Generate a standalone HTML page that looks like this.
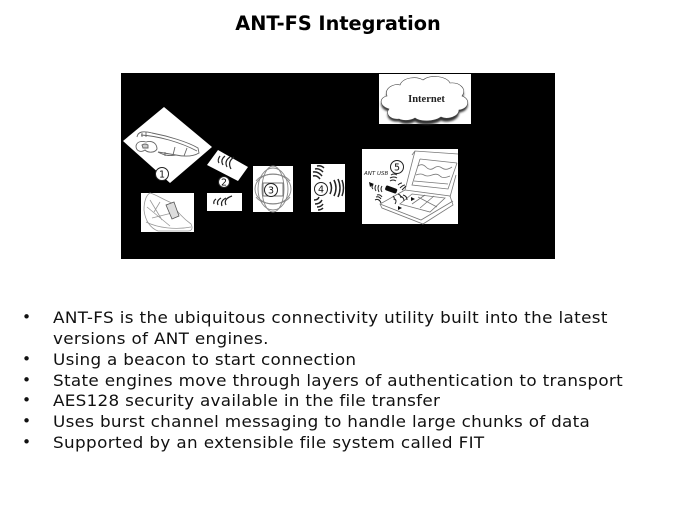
<!DOCTYPE html>
<html><head><meta charset="utf-8"><style>
html,body{margin:0;padding:0;background:#fff}
body{width:675px;height:506px;position:relative;overflow:hidden;font-family:"DejaVu Sans",sans-serif;color:#111}
h1{position:absolute;left:0;top:12px;width:676px;margin:0;text-align:center;font-size:19.3px;line-height:23px;font-weight:bold;color:#000}
svg{position:absolute;left:0;top:0}
.l{position:absolute;left:53px;font-size:16px;line-height:21px;white-space:nowrap;letter-spacing:.34px;transform:scaleX(1.05);transform-origin:0 0}
.b{position:absolute;left:22px;font-size:15.4px;line-height:21px}
</style></head><body>
<h1>ANT-FS Integration</h1>
<svg width="675" height="506" viewBox="0 0 675 506">
<defs><filter id="s" x="-5%" y="-5%" width="110%" height="110%"><feGaussianBlur stdDeviation="0.35"/></filter>
<filter id="c" x="-10%" y="-10%" width="120%" height="120%"><feGaussianBlur stdDeviation="1"/></filter></defs>
<rect x="121" y="73" width="434" height="186" fill="#000"/>
<g fill="#fff">
<polygon points="164,107 212,147 170,183 123,141"/>
<polygon points="218,150 248,167 238,181 207,165"/>
<rect x="207" y="193" width="35" height="18"/>
<rect x="141" y="193" width="53" height="39"/>
<rect x="253" y="166" width="40" height="46"/>
<rect x="311" y="164" width="34" height="48"/>
<rect x="362" y="149" width="96" height="75"/>
<rect x="379" y="74" width="92" height="50"/>
</g>
<g filter="url(#s)">
<!-- headband -->
<g fill="none" stroke="#666" stroke-width="0.9">
<path d="M137,137 C138,131 144,131 152,133 C168,136 188,142 198,148 L199,153 C194,156 186,157 176,155 L158,152"/>
<path d="M141,135 C158,136 180,142 197,151"/>
<path d="M142,133 V137 M146,132 V137 M175,147 L173,155 M187,148 L184,156"/>
<path d="M136,146 C137,141 142,141 146,142 C153,140 157,144 157,149 C155,153 148,153 145,150 C141,153 136,151 136,146 Z"/>
<path d="M142,145 q3,-2 6,0 v3 h-5 Z" fill="#ccc"/>
<path d="M158,152 C165,156 170,156 176,155 M165,152 V156"/>
</g>
<!-- shoe -->
<g fill="none" stroke="#999" stroke-width="0.8">
<path d="M144,210 C144,202 146,195 150,193 C155,194 164,200 172,203 C176,211 184,219 191,224 C193,228 192,231 188,231 H158 C150,228 145,220 144,210 Z"/>
<path d="M147,207 L170,226 M150,200 L162,220 M152,218 L176,212 M160,202 L154,212 M146,222 C158,228 176,230 191,227"/>
<path d="M166,205 L174,202 L179,216 L172,219 Z" stroke="#555" fill="#ddd"/>
</g>
<!-- device 3 -->
<g fill="none" stroke="#888" stroke-width="0.9">
<ellipse cx="273" cy="189" rx="18" ry="15"/><ellipse cx="273" cy="189" rx="15" ry="21"/><ellipse cx="273" cy="189" rx="11" ry="23"/>
<path d="M256,181 C262,172 284,172 290,181 M256,197 C262,206 284,206 290,197"/>
<rect x="263" y="183" width="20" height="13" stroke="#666"/>
</g>
<!-- waves -->
<g fill="none" stroke="#222" stroke-width="1.2">
<path d="M219,163 q-2,-3 1,-7 M223,165 q-3,-5 2,-9 M227,167 q-3,-6 3,-10 M231,169 q-4,-7 3,-12"/>
<path d="M214,204 q-1,-3 2,-5 M218,205 q-2,-4 3,-7 M222,206 q-2,-5 4,-8 M226,205 q-3,-6 6,-9"/>
</g>
<g fill="none" stroke="#222" stroke-width="1.5">
<path d="M330,182 q3,6 0,12 M334,180 q4,8 0,16 M338,179 q4,9 0,18 M342,180 q3,8 0,16"/>
<path d="M320,179 q-3,-4 -7,-3 M322,176 q-4,-5 -9,-4 M323,172 q-4,-4 -8,-3 M324,168 q-3,-3 -7,-2"/>
<path d="M319,197 q-1,3 -5,3 M322,200 q-2,4 -7,4 M323,204 q-2,3 -6,3 M323,208 q-2,2 -5,2"/>
</g>
<!-- laptop -->
<g fill="none" stroke="#777" stroke-width="0.8">
<path d="M405,190 L415,151 L458,154 M415,151 L412,155"/>
<path d="M420,159 L457,163 M420,159 L412,185 L448,189 L457,163"/>
<path d="M418,166 q4,-3 8,1 t8,1 t8,0 t10,-1 M416,175 q5,-2 8,0 t8,0 t8,1 t10,0 M414,181 L448,184"/>
<path d="M405,190 L450,196 L453,205 L423,224 L382,208 L380,204 L405,190"/>
<path d="M380,204 L421,220 L453,201"/>
<path d="M412,194 L445,198 L430,212 L400,204 Z M418,197 L437,207 M425,195 L412,204 M434,196 L420,208"/>
<path d="M450,197 L456,175"/>
</g>
<rect x="385" y="187" width="12" height="5" rx="1.5" transform="rotate(20 391 190)" fill="#111"/>
<g fill="none" stroke="#222" stroke-width="1">
<path d="M373,185 q-2,2 0,4 M376,185 q-2,3 0,6 M379,185 q-2,3 0,7 M382,186 q-2,3 0,6"/>
<path d="M390,181 q3,-2 6,0 M390,178 q4,-2 7,0 M391,175 q3,-2 6,0"/>
<path d="M398,185 q2,-2 4,-2 M400,188 q3,-3 5,-3 M402,190 q3,-3 4,-4"/>
<path d="M376,197 q3,-1 5,2 M375,200 q4,-2 6,3 M377,195 q3,-1 5,2"/>
<path d="M398,194 q3,1 3,4 M400,196 q4,1 4,5 M403,195 q4,1 4,5"/>
<path d="M393,196 q2,2 1,4 M395,199 q2,2 0,5"/>
</g>
<path d="M369,182 l5,2 -4,3Z M411,197 l4,2 -4,2Z M398,206 l4,2 -4,2Z" fill="#111"/>
<!-- cloud shadow + cloud -->
<path d="M399,120 C390,121 385,115 389,110 C380,108 378,99 387,97 C384,89 394,84 400,86 C403,78 417,77 423,81 C430,75 447,77 450,84 C460,83 467,90 462,97 C471,100 469,110 459,111 C459,119 447,122 441,119 C434,124 420,124 415,120 C410,123 403,123 399,120 Z" fill="#333" filter="url(#c)" transform="translate(0,1.5)"/>
<path d="M399,119 C390,120 385,114 389,109 C380,107 378,98 387,96 C384,88 394,83 400,85 C403,77 417,76 423,80 C430,74 447,76 450,83 C460,82 467,89 462,96 C471,99 469,109 459,110 C459,117 447,120 441,117 C434,122 420,122 415,118 C410,121 403,121 399,119 Z" fill="#fff" stroke="#444" stroke-width="0.6"/>
<text x="426.5" y="102" font-family="'Liberation Serif',serif" font-size="10.5" font-weight="bold" text-anchor="middle" fill="#222">Internet</text>
<text x="364" y="175" font-family="'DejaVu Sans',sans-serif" font-size="5.5" font-style="italic" fill="#222">ANT USB</text>
<g fill="#fff" stroke="#222" stroke-width="1">
<circle cx="162" cy="174" r="6.5"/><circle cx="224" cy="182" r="5.5"/><circle cx="271" cy="190" r="6.5"/><circle cx="321" cy="189" r="6.5"/><circle cx="397" cy="167" r="6.5"/>
</g>
<g font-family="'DejaVu Sans',sans-serif" font-size="9.5" text-anchor="middle" fill="#111">
<text x="162" y="177.5">1</text><text x="224" y="185.5">2</text><text x="271" y="193.5">3</text><text x="321" y="192.5">4</text><text x="397" y="170.5">5</text>
</g>
</g>
</svg>
<div class="b" style="top:307px">•</div><div class="l" style="top:307px">ANT-FS is the ubiquitous connectivity utility built into the latest</div>
<div class="l" style="top:328px;letter-spacing:.3px">versions of ANT engines.</div>
<div class="b" style="top:349px">•</div><div class="l" style="top:349px;letter-spacing:.26px">Using a beacon to start connection</div>
<div class="b" style="top:370px">•</div><div class="l" style="top:370px;letter-spacing:.3px">State engines move through layers of authentication to transport</div>
<div class="b" style="top:390px">•</div><div class="l" style="top:390px;letter-spacing:.26px">AES128 security available in the file transfer</div>
<div class="b" style="top:411px">•</div><div class="l" style="top:411px;letter-spacing:.28px">Uses burst channel messaging to handle large chunks of data</div>
<div class="b" style="top:432px">•</div><div class="l" style="top:432px">Supported by an extensible file system called FIT</div>
</body></html>
